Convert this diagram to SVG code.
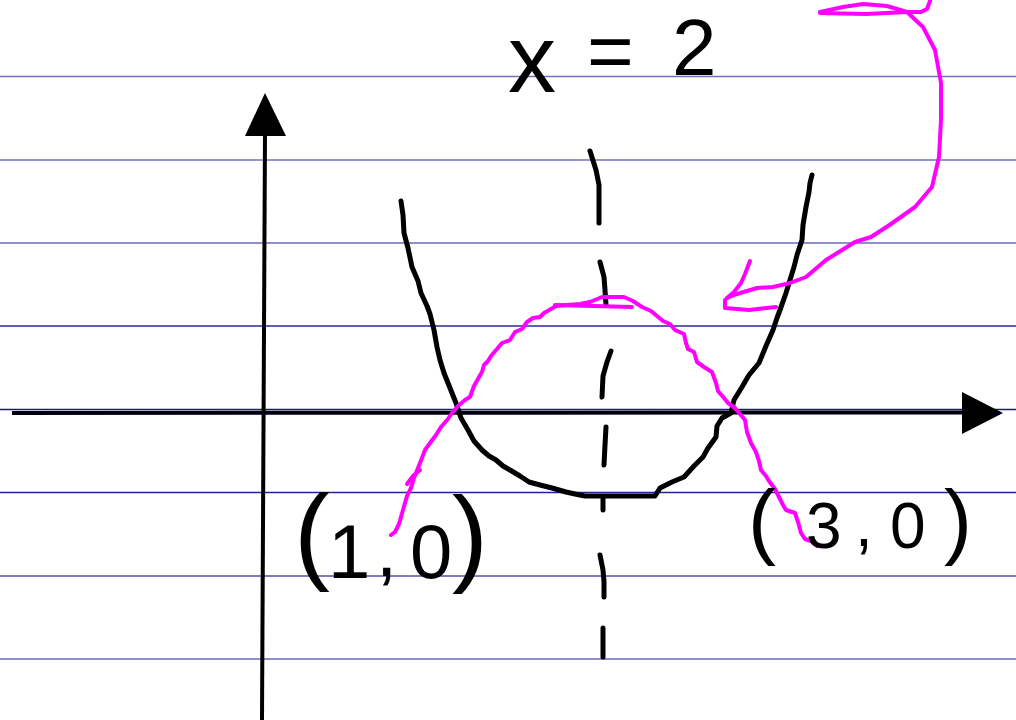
<svg xmlns="http://www.w3.org/2000/svg" width="1016" height="720" viewBox="0 0 1016 720">
<style>
.rule{stroke-width:1.5;fill:none}
.ink{fill:none;stroke:#000;stroke-width:5;stroke-linecap:round;stroke-linejoin:round}
.pink{fill:none;stroke:#ff00ff;stroke-width:4;stroke-linecap:round;stroke-linejoin:round}
.axis{stroke:#000;stroke-width:4;fill:none}
.hand{font-family:"Liberation Sans","DejaVu Sans",sans-serif;fill:#000}
</style>
<rect width="1016" height="720" fill="#fff"/>
<g id="rules">
<line class="rule" x1="0" y1="76.5" x2="1016" y2="76.5" stroke="#7070c0"/>
<line class="rule" x1="0" y1="160" x2="1016" y2="160" stroke="#7070c0"/>
<line class="rule" x1="0" y1="243" x2="1016" y2="243" stroke="#6a6abc"/>
<line class="rule" x1="0" y1="326" x2="1016" y2="326" stroke="#2a2a98"/>
<line class="rule" x1="0" y1="409.5" x2="1016" y2="409.5" stroke="#1a1a8c"/>
<line class="rule" x1="0" y1="492.5" x2="1016" y2="492.5" stroke="#24249a"/>
<line class="rule" x1="0" y1="576" x2="1016" y2="576" stroke="#5050a8"/>
<line class="rule" x1="0" y1="659" x2="1016" y2="659" stroke="#6a6ab8"/>
</g>
<g id="axes">
<line class="axis" x1="12" y1="413" x2="964" y2="412.5"/>
<polygon points="962,392 1003,413 962,434" fill="#000"/>
<line class="axis" x1="265" y1="134" x2="262" y2="720"/>
<polygon points="265,93 245,136 286,136" fill="#000"/>
</g>
<g id="axis-of-symmetry">
<path class="ink" d="M590,151 L596,170 L599,185 L599,223"/>
<path class="ink" d="M600,262 L604,277 L605,290 L606,305"/>
<path class="ink" d="M611,351 L607,362 L603,376 L602,397"/>
<path class="ink" d="M606,427 L605,445 L604,465"/>
<path class="ink" d="M603,499 L603,510"/>
<path class="ink" d="M600,555 L603,570 L604,582 L604,597"/>
<path class="ink" d="M603,628 L603,640 L603,657"/>
</g>
<g id="black-parabola">
<path class="ink" d="M401,201 L403,215 L404,233 L408,248 L412,267 L418,281 L421,293 L427,306 L430,314 L434,330 L437,347 L440,360 L444,373 L450,388 L456,403 L461,418 L468,430 L474,441 L482,450 L489,456 L496,460 L503,466 L510,470 L520,476 L529,482 L540,485 L552,488 L566,492 L575,494 L585,496 L655,496 L660,488 L672,482 L684,477 L694,466 L703,457 L708,448 L716,437 L717,426 L722,418 L731,413 L734,400 L742,387 L749,375 L759,363 L766,346 L773,330 L777,318 L780,310 L786,293 L790,280 L794,267 L797,255 L802,240 L803,225 L806,207 L809,192 L810,183 L812,175"/>
</g>
<g id="pink-parabola">
<path class="pink" d="M391,535 L395,532 L399,524 L403,510 L407,496 L411,488 L414,478 L418,468 L422,458 L425,450 L430,443 L436,435 L441,427 L448,419 L452,413 L458,406 L465,400 L470,397 L474,386 L478,379 L482,372 L484,365 L488,361 L491,356 L497,349 L502,343 L510,340 L515,332 L522,329 L527,322 L533,318 L540,317 L544,313 L551,309 L556,306 L567,305 L580,304 L590,302 L602,297 L612,297 L624,297 L633,301 L642,307 L651,311 L657,316 L663,321 L670,324 L675,330 L684,334 L686,343 L688,349 L694,352 L697,362 L704,367 L712,372 L716,383 L718,391 L724,398 L728,403 L735,408 L740,414 L745,420 L747,432 L751,443 L756,452 L759,461 L761,470 L766,476 L769,481 L775,489 L779,497 L783,505 L786,510 L795,513 L798,522 L801,533 L805,539 L811,541 L817,546"/>
<path class="pink" d="M407,484 L413,476 L420,470"/>
<path class="pink" d="M555,305 L632,307"/>
</g>
<g id="pink-arrow">
<path class="pink" d="M820,12 L843,7 L863,4 L887,6 L907,12 L921,12 L927,9 L930,1"/>
<path class="pink" d="M820,13 L866,14 L907,12 L923,27 L935,50 L941,83 L941,120 L939,157 L932,187 L915,207 L891,224 L871,237 L855,242 L826,260 L806,277 L790,283 L773,287 L757,288 L737,294 L727,298"/>
<path class="pink" d="M750,261 L745,274 L741,283 L734,292 L727,298"/>
<path class="pink" d="M725,300 L725,308 L749,310 L776,307"/>
</g>
<g id="labels">
<text class="hand"><tspan x="508" y="92" font-size="96">x</tspan><tspan x="587" y="78" font-size="80">=</tspan><tspan x="672" y="75" font-size="80">2</tspan></text>
<text class="hand"><tspan x="294" y="570" font-size="108">(</tspan><tspan x="328" y="578" font-size="76">1</tspan><tspan x="376" y="576" font-size="76">,</tspan><tspan x="410" y="578" font-size="76">0</tspan><tspan x="452" y="572" font-size="108">)</tspan></text>
<text class="hand"><tspan x="748" y="549" font-size="84">(</tspan><tspan x="806" y="548" font-size="64">3</tspan><tspan x="855" y="546" font-size="64">,</tspan><tspan x="890" y="548" font-size="64">0</tspan><tspan x="944" y="549" font-size="84">)</tspan></text>
</g>
</svg>
